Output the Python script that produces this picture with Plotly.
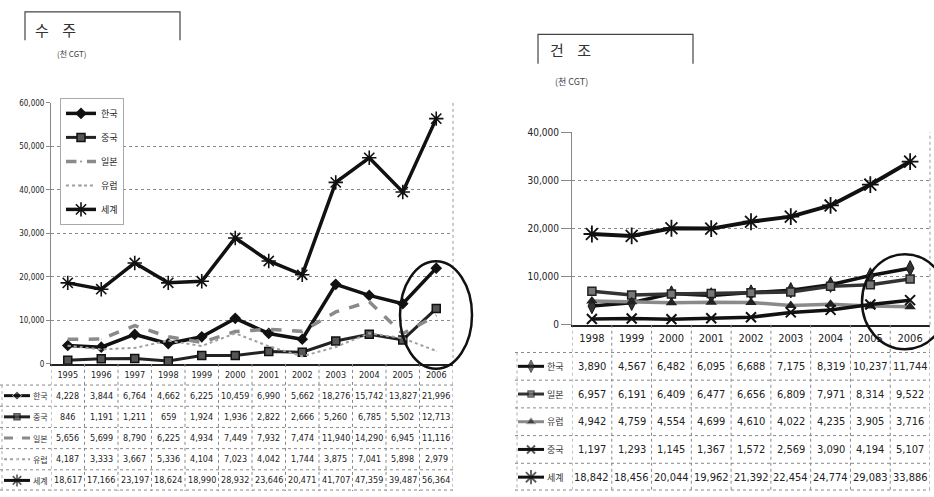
import plotly.graph_objects as go

W, H = 934, 497

# ---- 수주 (orders), thousand CGT ----
order_years = ["1995", "1996", "1997", "1998", "1999", "2000",
               "2001", "2002", "2003", "2004", "2005", "2006"]
order_korea = [4228, 3844, 6764, 4662, 6225, 10459, 6990, 5662, 18276, 15742, 13827, 21996]
order_china = [846, 1191, 1211, 659, 1924, 1936, 2822, 2666, 5260, 6785, 5502, 12713]
order_japan = [5656, 5699, 8790, 6225, 4934, 7449, 7932, 7474, 11940, 14290, 6945, 11116]
order_europe = [4187, 3333, 3667, 5336, 4104, 7023, 4042, 1744, 3875, 7041, 5898, 2979]
order_world = [18617, 17166, 23197, 18624, 18990, 28932, 23646, 20471, 41707, 47359, 39487, 56364]

# ---- 건조 (deliveries), thousand CGT ----
delivery_years = ["1998", "1999", "2000", "2001", "2002", "2003", "2004", "2005", "2006"]
delivery_korea = [3890, 4567, 6482, 6095, 6688, 7175, 8319, 10237, 11744]
delivery_japan = [6957, 6191, 6409, 6477, 6656, 6809, 7971, 8314, 9522]
delivery_europe = [4942, 4759, 4554, 4699, 4610, 4022, 4235, 3905, 3716]
delivery_china = [1197, 1293, 1145, 1367, 1572, 2569, 3090, 4194, 5107]
delivery_world = [18842, 18456, 20044, 19962, 21392, 22454, 24774, 29083, 33886]

order_series = [("한국", order_korea), ("중국", order_china), ("일본", order_japan),
                ("유럽", order_europe), ("세계", order_world)]
delivery_series = [("한국", delivery_korea), ("일본", delivery_japan), ("유럽", delivery_europe),
                   ("중국", delivery_china), ("세계", delivery_world)]

NUM_FONT = "Liberation Sans Narrow, DejaVu Sans Condensed, Arial Narrow, sans-serif"
KR_FONT = "Noto Sans CJK KR, sans-serif"

order_style = {
    "한국": dict(line=dict(color="#111", width=3.5), marker=dict(symbol="diamond", size=9, color="#111")),
    "중국": dict(line=dict(color="#222", width=3), marker=dict(symbol="square", size=8, color="#555",
                                                             line=dict(color="#111", width=1.5))),
    "일본": dict(line=dict(color="#8a8a8a", width=3.5, dash="dash"), marker=dict(size=1, color="#8a8a8a")),
    "유럽": dict(line=dict(color="#a0a0a0", width=2, dash="dot"), marker=dict(size=1, color="#a0a0a0")),
    "세계": dict(line=dict(color="#111", width=3.5), marker=dict(symbol="asterisk-open", size=12,
                                                             line=dict(color="#111", width=1.6))),
}
delivery_style = {
    "한국": dict(line=dict(color="#111", width=3.5), marker=dict(symbol="diamond-tall", size=11, color="#333",
                                                             line=dict(color="#111", width=1))),
    "일본": dict(line=dict(color="#333", width=3.5), marker=dict(symbol="square", size=8, color="#777",
                                                             line=dict(color="#222", width=1.5))),
    "유럽": dict(line=dict(color="#8a8a8a", width=3.5), marker=dict(symbol="triangle-up", size=10, color="#222")),
    "중국": dict(line=dict(color="#111", width=3.5), marker=dict(symbol="x-thin-open", size=10,
                                                             line=dict(color="#111", width=2))),
    "세계": dict(line=dict(color="#111", width=4), marker=dict(symbol="asterisk-open", size=14,
                                                             line=dict(color="#111", width=1.8))),
}


def py(y):
    return 1 - y / H


def px(x):
    return x / W


# pixel frames of the two panels
L = dict(x0=51, x1=453, top=100, bottom=367, ymax=60000, tbl_bottom=497, hdr_x0=0)
R = dict(x0=572, x1=930, top=130, bottom=327, ymax=40000, tbl_bottom=497, hdr_x0=515)

fig = go.Figure()

for name, vals in order_series:
    st = order_style[name]
    fig.add_trace(go.Scatter(x=list(range(len(order_years))), y=vals, name=name,
                             mode="lines+markers", line=st["line"], marker=st["marker"],
                             legendgroup=name, xaxis="x", yaxis="y"))

for name, vals in delivery_series:
    st = delivery_style[name]
    fig.add_trace(go.Scatter(x=list(range(len(delivery_years))), y=vals, name=name,
                             mode="lines+markers", line=st["line"], marker=st["marker"],
                             showlegend=False, xaxis="x2", yaxis="y2"))

shapes = []
annotations = []


def label(x, y, text, font, xref="paper", xanchor="center"):
    return dict(x=x, y=y, xref=xref, yref="paper", text=text, xanchor=xanchor, yanchor="middle",
                showarrow=False, font=font)


def build_table(frame, years, series, styles, xref, num_size, name_size, key_x0, key_x1):
    n = len(years)
    rows = len(series) + 1
    rh = (frame["tbl_bottom"] - frame["bottom"]) / rows
    # column separators
    for i in range(n + 1):
        shapes.append(dict(type="line", xref=xref, yref="paper", x0=i - 0.5, x1=i - 0.5,
                           y0=py(frame["bottom"]), y1=py(frame["tbl_bottom"]),
                           line=dict(color="#888", width=1, dash="dot")))
    shapes.append(dict(type="line", xref="paper", yref="paper", x0=px(frame["hdr_x0"] + 2),
                       x1=px(frame["hdr_x0"] + 2), y0=py(frame["bottom"] + rh),
                       y1=py(frame["tbl_bottom"]), line=dict(color="#aaa", width=1, dash="dot")))
    # row separators
    for k in range(1, rows + 1):
        yy = frame["bottom"] + rh * k
        if k == rows:
            yy -= 1
        shapes.append(dict(type="line", xref="paper", yref="paper", x0=px(frame["hdr_x0"]), x1=px(frame["x1"]),
                           y0=py(yy), y1=py(yy), line=dict(color="#888", width=1, dash="dot")))
    # values and row keys
    for r, (name, vals) in enumerate(series):
        yc = frame["bottom"] + rh * (r + 1.5)
        for i, v in enumerate(vals):
            annotations.append(label(i, py(yc), f"{v:,}",
                                     dict(family=NUM_FONT, size=num_size, color="#222"), xref=xref))
        annotations.append(label(px(key_x1 + 1), py(yc), name,
                                 dict(family=KR_FONT, size=name_size, color="#333"), xanchor="left"))
        st = styles[name]
        mk = dict(st["marker"])
        msize = mk.get("size", 6)
        mk["size"] = [0, max(msize - 2, 1), 0]
        fig.add_trace(go.Scatter(x=[key_x0, (key_x0 + key_x1) / 2, key_x1], y=[yc] * 3,
                                 mode="lines+markers", line=dict(st["line"], width=min(st["line"]["width"], 3)),
                                 marker=mk, showlegend=False, hoverinfo="skip",
                                 xaxis="x3", yaxis="y3"))


build_table(L, order_years, order_series, order_style, "x", 9, 8, 4, 30)
build_table(R, delivery_years, delivery_series, delivery_style, "x2", 11, 9, 518, 544)

# dotted right edges of the plot areas
for fr in (L, R):
    shapes.append(dict(type="line", xref="paper", yref="paper", x0=px(fr["x1"]), x1=px(fr["x1"]),
                       y0=py(fr["bottom"]), y1=py(fr["top"]), line=dict(color="#999", width=1, dash="dot")))

# title boxes
for x0, x1, y0, y1 in ((25, 180, 7, 36), (538, 693, 30, 60)):
    shapes.append(dict(type="path", xref="paper", yref="paper",
                       path=f"M {px(x0)},{py(y1)} L {px(x0)},{py(y0)} L {px(x1)},{py(y0)} L {px(x1)},{py(y1)}",
                       line=dict(color="#444", width=1.2)))

annotations += [
    label(px(33), py(25), "수    주", dict(family=KR_FONT, size=15, color="#333"), xanchor="left"),
    label(px(55), py(50), "(천 CGT)", dict(family=KR_FONT, size=8, color="#444"), xanchor="left"),
    label(px(548), py(46), "건    조", dict(family=KR_FONT, size=15, color="#333"), xanchor="left"),
    label(px(553), py(78), "(천 CGT)", dict(family=KR_FONT, size=9, color="#444"), xanchor="left"),
]

# emphasis rings around 2006
shapes.append(dict(type="circle", xref="paper", yref="paper", x0=px(400), x1=px(472),
                   y0=py(372), y1=py(262), line=dict(color="#111", width=2.5)))
shapes.append(dict(type="circle", xref="paper", yref="paper", x0=px(862), x1=px(948),
                   y0=py(352), y1=py(255), line=dict(color="#111", width=2.5)))


def yax(frame, size, standoff):
    return dict(domain=[py(frame["bottom"]), py(frame["top"])], range=[0, frame["ymax"]], dtick=10000,
                tickformat=",", showgrid=True, gridcolor="#8a8a8a", griddash="dot", gridwidth=1,
                zeroline=False, showline=True, linecolor="#888", linewidth=1, ticks="outside",
                ticklen=standoff, tickcolor="#888",
                tickfont=dict(family=NUM_FONT, size=size, color="#222"))


def xax(frame, years, size, anchor):
    return dict(domain=[px(frame["x0"]), px(frame["x1"])], range=[-0.5, len(years) - 0.5],
                tickvals=list(range(len(years))), ticktext=years, showgrid=False, zeroline=False,
                showline=True, linecolor="#222", linewidth=1.5, ticks="", anchor=anchor,
                ticklabelstandoff=2,
                tickfont=dict(family=NUM_FONT, size=size, color="#222"))


fig.update_layout(
    width=W, height=H, margin=dict(l=0, r=0, t=0, b=0),
    paper_bgcolor="white", plot_bgcolor="rgba(0,0,0,0)",
    xaxis=xax(L, order_years, 9, "y"),
    yaxis=dict(yax(L, 8, 4), anchor="x"),
    xaxis2=xax(R, delivery_years, 11, "y2"),
    yaxis2=dict(yax(R, 10, 10), anchor="x2"),
    xaxis3=dict(domain=[0, 1], range=[0, W], visible=False, anchor="y3"),
    yaxis3=dict(domain=[0, 1], range=[H, 0], visible=False, anchor="x3"),
    legend=dict(x=px(60), y=py(95), xanchor="left", yanchor="top", bgcolor="white",
                bordercolor="#aaa", borderwidth=1, tracegroupgap=5, itemwidth=30,
                font=dict(family=KR_FONT, size=9, color="#222")),
    shapes=shapes, annotations=annotations, showlegend=True,
)

fig.write_html("out.html")
